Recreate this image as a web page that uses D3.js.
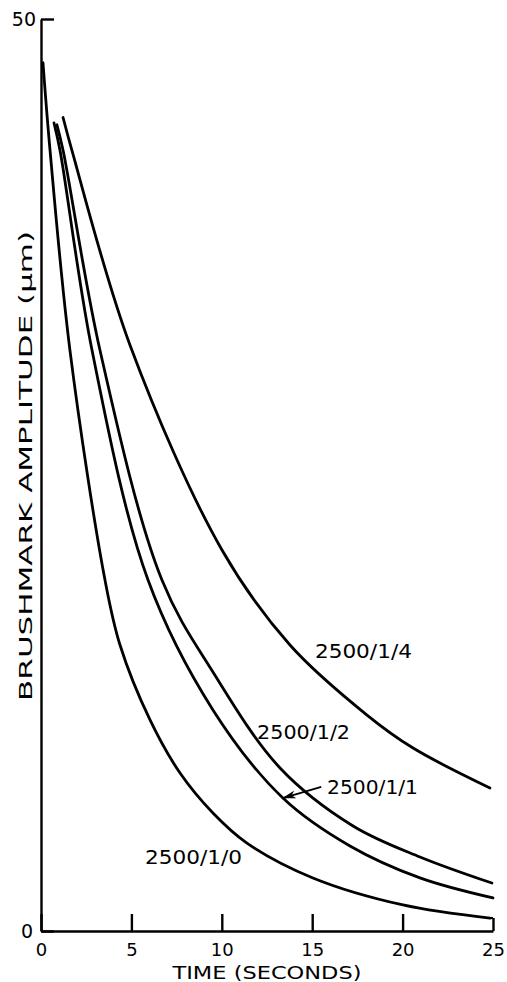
<!DOCTYPE html>
<html>
<head>
<meta charset="utf-8">
<script src="https://cdn.jsdelivr.net/npm/d3@7"></script>
<style>
  body { margin: 0; background: #fff; }
  text { font-family: "DejaVu Sans", sans-serif; fill: #000; }
</style>
</head>
<body>
<div id="chart"></div>
<script>
// data: time (s) and brushmark amplitude (um)
var t0 = [0.11, 0.5, 1.6, 3.54, 4.37, 6.03, 7.69, 9.51, 11.39, 15.04, 20.02, 24.83];
var v0 = [47.6, 42.8, 31.85, 19.24, 15.68, 11.57, 8.66, 6.47, 4.82, 2.91, 1.43, 0.71];

var t1 = [0.72, 1.05, 2.82, 5.92, 9.51, 13.38, 17.09, 20.96, 25];
var v1 = [44.3, 42.8, 31.85, 19.24, 12.12, 7.29, 4.66, 2.91, 1.81];

var t2 = [0.88, 1.22, 3.26, 6.69, 9.51, 13.22, 17.26, 20.96, 24.94];
var v2 = [44.2, 42.8, 31.85, 19.24, 14.2, 8.94, 5.76, 4.06, 2.63];

var t4 = [1.22, 1.71, 4.92, 10.01, 13.77, 18.03, 20.58, 24.83];
var v4 = [44.6, 42.8, 32.13, 20.89, 15.68, 11.84, 10.03, 7.84];

var seriesNames = ["2500/1/0", "2500/1/1", "2500/1/2", "2500/1/4"];
// label anchor (time, amplitude) for each curve name
var labelT = [5.75, 15.82, 11.95, 15.15];
var labelV = [3.67, 7.51, 10.53, 14.97];

var xTicks = [0, 5, 10, 15, 20, 25];
var yTicks = [0, 50];

// set the dimensions and margins of the graph
var margin = {top: 19, right: 14, bottom: 51, left: 41},
    width = 507 - margin.left - margin.right,
    height = 982 - margin.top - margin.bottom;

var svg = d3.select("#chart")
  .append("svg")
    .attr("width", 507)
    .attr("height", 982)
  .append("g")
    .attr("transform", "translate(" + margin.left + "," + margin.top + ")");

var x = d3.scaleLinear().domain([0, 25]).range([0, width]);
var y = d3.scaleLinear().domain([0, 50]).range([height, 0]);

// x axis, ticks pointing up into the plot
var xAxis = svg.append("g")
  .attr("transform", "translate(0," + height + ")")
  .call(d3.axisBottom(x).tickValues(xTicks).tickSizeInner(-17).tickSizeOuter(0).tickPadding(12));
xAxis.selectAll(".tick line").attr("y2", function(d) { return d === 25 ? -13 : -17; });

// y axis, only 0 and 50
var yAxis = svg.append("g")
  .call(d3.axisLeft(y).tickValues(yTicks).tickSizeInner(-13).tickSizeOuter(0).tickPadding(8));
yAxis.selectAll(".tick text").attr("dx", function(d) { return d === 50 ? 3 : 0; });

svg.selectAll(".domain, .tick line")
  .attr("stroke", "#000")
  .attr("stroke-width", 2.4);
svg.selectAll(".tick text")
  .attr("font-family", "DejaVu Sans")
  .attr("font-size", 18)
  .attr("fill", "#000");
yAxis.selectAll(".tick text").attr("font-size", 19);

// axis titles
svg.append("text")
  .attr("x", width / 2)
  .attr("y", height + 48)
  .attr("text-anchor", "middle")
  .attr("font-size", 18)
  .attr("textLength", 189)
  .attr("lengthAdjust", "spacingAndGlyphs")
  .text("TIME (SECONDS)");

svg.append("text")
  .attr("transform", "translate(-9," + (y(25.5)) + ") rotate(-90)")
  .attr("text-anchor", "middle")
  .attr("font-size", 17)
  .attr("textLength", 470)
  .attr("lengthAdjust", "spacingAndGlyphs")
  .text("BRUSHMARK  AMPLITUDE  (\u00b5m)");

// the curves
var allT = [t0, t1, t2, t4];
var allV = [v0, v1, v2, v4];

var line = d3.line()
  .x(function(d) { return x(d[0]); })
  .y(function(d) { return y(d[1]); })
  .curve(d3.curveCatmullRom.alpha(0.5));

allT.forEach(function(ts, i) {
  var pts = ts.map(function(t, j) { return [t, allV[i][j]]; });
  svg.append("path")
    .datum(pts)
    .attr("fill", "none")
    .attr("stroke", "#000")
    .attr("stroke-width", 2.8)
    .attr("stroke-linecap", "round")
    .attr("d", line);
});

// bottom curve joins the 25 s tick
svg.append("line")
  .attr("x1", x(t0[t0.length - 1])).attr("y1", y(v0[v0.length - 1]))
  .attr("x2", x(25)).attr("y2", y(v0[v0.length - 1]))
  .attr("stroke", "#000").attr("stroke-width", 2.2);

// curve labels
seriesNames.forEach(function(name, i) {
  svg.append("text")
    .attr("x", x(labelT[i]))
    .attr("y", y(labelV[i]))
    .attr("font-size", 19)
    .attr("textLength", i === 1 ? 91 : (i === 2 ? 93 : 97))
    .attr("lengthAdjust", "spacingAndGlyphs")
    .text(name);
});

// arrow from 2500/1/1 label to its curve
svg.append("defs").append("marker")
  .attr("id", "head")
  .attr("viewBox", "0 0 14 8")
  .attr("refX", 13).attr("refY", 4)
  .attr("markerWidth", 14).attr("markerHeight", 8)
  .attr("markerUnits", "userSpaceOnUse")
  .attr("orient", "auto")
  .append("path")
  .attr("d", "M0,0 L14,4 L0,8 L4,4 Z")
  .attr("fill", "#000");

svg.append("line")
  .attr("x1", x(15.5)).attr("y1", y(7.9))
  .attr("x2", x(13.38)).attr("y2", y(7.29))
  .attr("stroke", "#000")
  .attr("stroke-width", 1.8)
  .attr("marker-end", "url(#head)");
</script>
</body>
</html>
